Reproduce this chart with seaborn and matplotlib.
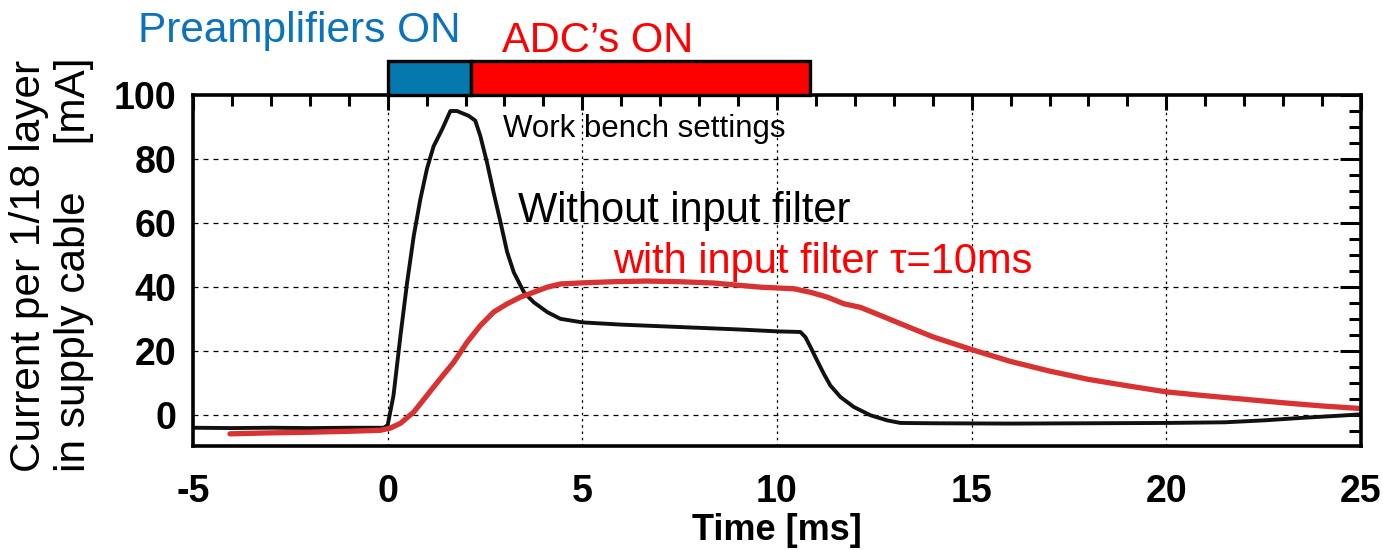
import numpy as np
import pandas as pd
import matplotlib
matplotlib.use("Agg")
import matplotlib.pyplot as plt
import seaborn as sns
from matplotlib.ticker import MultipleLocator

# ---------------- data ----------------
t_black = [-5.0, -4.0, -3.0, -2.0, -1.0, -0.1, 0.0, 0.15, 0.33, 0.5, 0.67, 0.84, 1.01,
           1.18, 1.4, 1.61, 1.78, 2.08, 2.25, 2.38, 2.55, 2.72, 2.9, 3.07, 3.24, 3.5,
           3.75, 4.1, 4.44, 5.0, 6.0, 7.0, 8.0, 9.0, 10.0, 10.6, 10.73, 10.86, 11.03,
           11.2, 11.37, 11.63, 11.97, 12.4, 12.83, 13.17, 14.0, 16.0, 18.0, 20.0, 21.5,
           22.5, 23.5, 24.5, 25.0]
i_black = [-3.9, -4.0, -3.9, -4.0, -3.9, -3.9, -3.1, 6.2, 25.0, 41.5, 56.0, 67.5, 77.0,
           84.0, 89.3, 95.0, 95.0, 93.5, 92.0, 87.2, 79.0, 69.6, 60.2, 50.9, 44.6, 38.4,
           35.3, 32.2, 30.1, 29.0, 28.3, 27.8, 27.3, 26.8, 26.2, 26.0, 24.4, 21.3, 17.1,
           13.0, 9.3, 5.7, 2.6, 0.0, -1.6, -2.4, -2.5, -2.6, -2.5, -2.4, -2.2,
           -1.6, -0.8, -0.1, 0.3]

t_red = [-4.05, -3.0, -2.0, -1.0, -0.19, 0.07, 0.33, 0.67, 1.01, 1.35, 1.7, 2.04, 2.38,
         2.72, 3.07, 3.41, 3.75, 4.1, 4.44, 4.93, 5.8, 6.65, 7.5, 8.36, 9.57, 10.43,
         10.86, 11.29, 11.72, 12.14, 12.57, 13.17, 14.0, 15.0, 16.0, 17.0, 18.0, 19.0,
         20.0, 21.0, 22.0, 23.0, 24.0, 25.0]
i_red = [-5.8, -5.5, -5.3, -5.0, -4.7, -4.0, -2.5, 1.0, 6.2, 11.4, 16.6, 22.8, 28.0,
         32.2, 34.8, 36.9, 38.4, 40.0, 41.0, 41.3, 41.7, 41.9, 41.7, 41.3, 40.0, 39.5,
         38.4, 36.9, 34.8, 33.7, 31.6, 28.6, 24.5, 20.5, 16.8, 13.8, 11.2, 9.2,
         7.3, 6.1, 5.0, 3.9, 2.9, 2.1]

phase_names = ["Preamplifiers ON", "ADC\u2019s ON"]
phase_start = [0.0, 2.14]
phase_end = [2.14, 10.84]

x_ticks = [-5, 0, 5, 10, 15, 20, 25]
y_ticks = [0, 20, 40, 60, 80, 100]

# ---------------- style ----------------
sns.set_theme(style="white")
plt.rcParams["font.family"] = ["Liberation Sans", "DejaVu Sans"]
plt.rcParams["axes.unicode_minus"] = False
plt.rcParams["text.color"] = "black"
plt.rcParams["xtick.color"] = "black"
plt.rcParams["ytick.color"] = "black"
plt.rcParams["axes.labelcolor"] = "black"

BLUE_TXT = "#0B72BC"
BLUE_BAR = "#0579AE"
RED_TXT = "#FF0000"
RED_LINE = "#D83232"

fig = plt.figure(figsize=(13.83, 5.5), dpi=100)
ax = fig.add_axes([193 / 1383, 1 - 446 / 550, (1361 - 193) / 1383, (446 - 95) / 550])

df_black = pd.DataFrame({"t": t_black, "i": i_black})
df_red = pd.DataFrame({"t": t_red, "i": i_red})

sns.lineplot(data=df_black, x="t", y="i", ax=ax, color="#111111", lw=2.8,
             sort=False, estimator=None, zorder=3)
sns.lineplot(data=df_red, x="t", y="i", ax=ax, color=RED_LINE, lw=3.8,
             sort=False, estimator=None, zorder=4)

ax.set_xlim(-5, 25)
ax.set_ylim(-9.6, 100)
ax.set_xticks(x_ticks)
ax.set_yticks(y_ticks)
ax.xaxis.set_minor_locator(MultipleLocator(1))
ax.yaxis.set_minor_locator(MultipleLocator(5))

# grid
for xv in x_ticks[1:-1]:
    ax.axvline(xv, color="black", lw=0.9, ls=(0, (2, 3)), zorder=1)
for yv in y_ticks[:-1]:
    ax.axhline(yv, color="black", lw=0.9, ls=(0, (4, 4)), zorder=1)

for sp in ax.spines.values():
    sp.set_linewidth(2.6)
    sp.set_color("black")
    sp.set_zorder(6)

ax.tick_params(axis="both", which="both", direction="in", top=True, right=True,
               color="black", labelcolor="black", width=2.2)
ax.tick_params(axis="x", which="major", length=11, pad=20)
ax.tick_params(axis="x", which="minor", length=8)
ax.tick_params(axis="y", which="major", length=15, pad=12)
ax.tick_params(axis="y", which="minor", length=8.5)
for lab in ax.get_xticklabels() + ax.get_yticklabels():
    lab.set_fontsize(27)
    lab.set_fontweight("bold")

ax.set_xlabel("Time [ms]", fontsize=26, fontweight="bold", labelpad=2, color="black")
ax.set_ylabel("")

# top phase bar
bar_colors = [BLUE_BAR, "#FF0000"]
ax.barh([105.3] * len(phase_start),
        [e - s for s, e in zip(phase_start, phase_end)],
        left=phase_start, height=10.6, color=bar_colors, edgecolor="black",
        linewidth=2.4, clip_on=False, zorder=7)
ax.set_ylim(-9.6, 100)

# texts
fig.text(138 / 1383, 1 - 42 / 550, phase_names[0], color=BLUE_TXT, fontsize=30.5,
         ha="left", va="baseline")
fig.text(502 / 1383, 1 - 52 / 550, phase_names[1], color=RED_TXT, fontsize=30,
         ha="left", va="baseline")
fig.text(503 / 1383, 1 - 137 / 550, "Work bench settings", color="black",
         fontsize=22.5, ha="left", va="baseline", zorder=8)
fig.text(518 / 1383, 1 - 222 / 550, "Without input filter", color="black",
         fontsize=30, ha="left", va="baseline")
fig.text(613 / 1383, 1 - 273 / 550, "with input filter \u03c4=10ms", color=RED_TXT,
         fontsize=30, ha="left", va="baseline")

fig.text(9 / 1383, 1 - 472 / 550, "Current per 1/18 layer\nin supply cable    [mA]",
         rotation=90, fontsize=30.5, ha="left", va="bottom", linespacing=1.15,
         multialignment="left", color="black")

fig.savefig("out.png", dpi=100)
